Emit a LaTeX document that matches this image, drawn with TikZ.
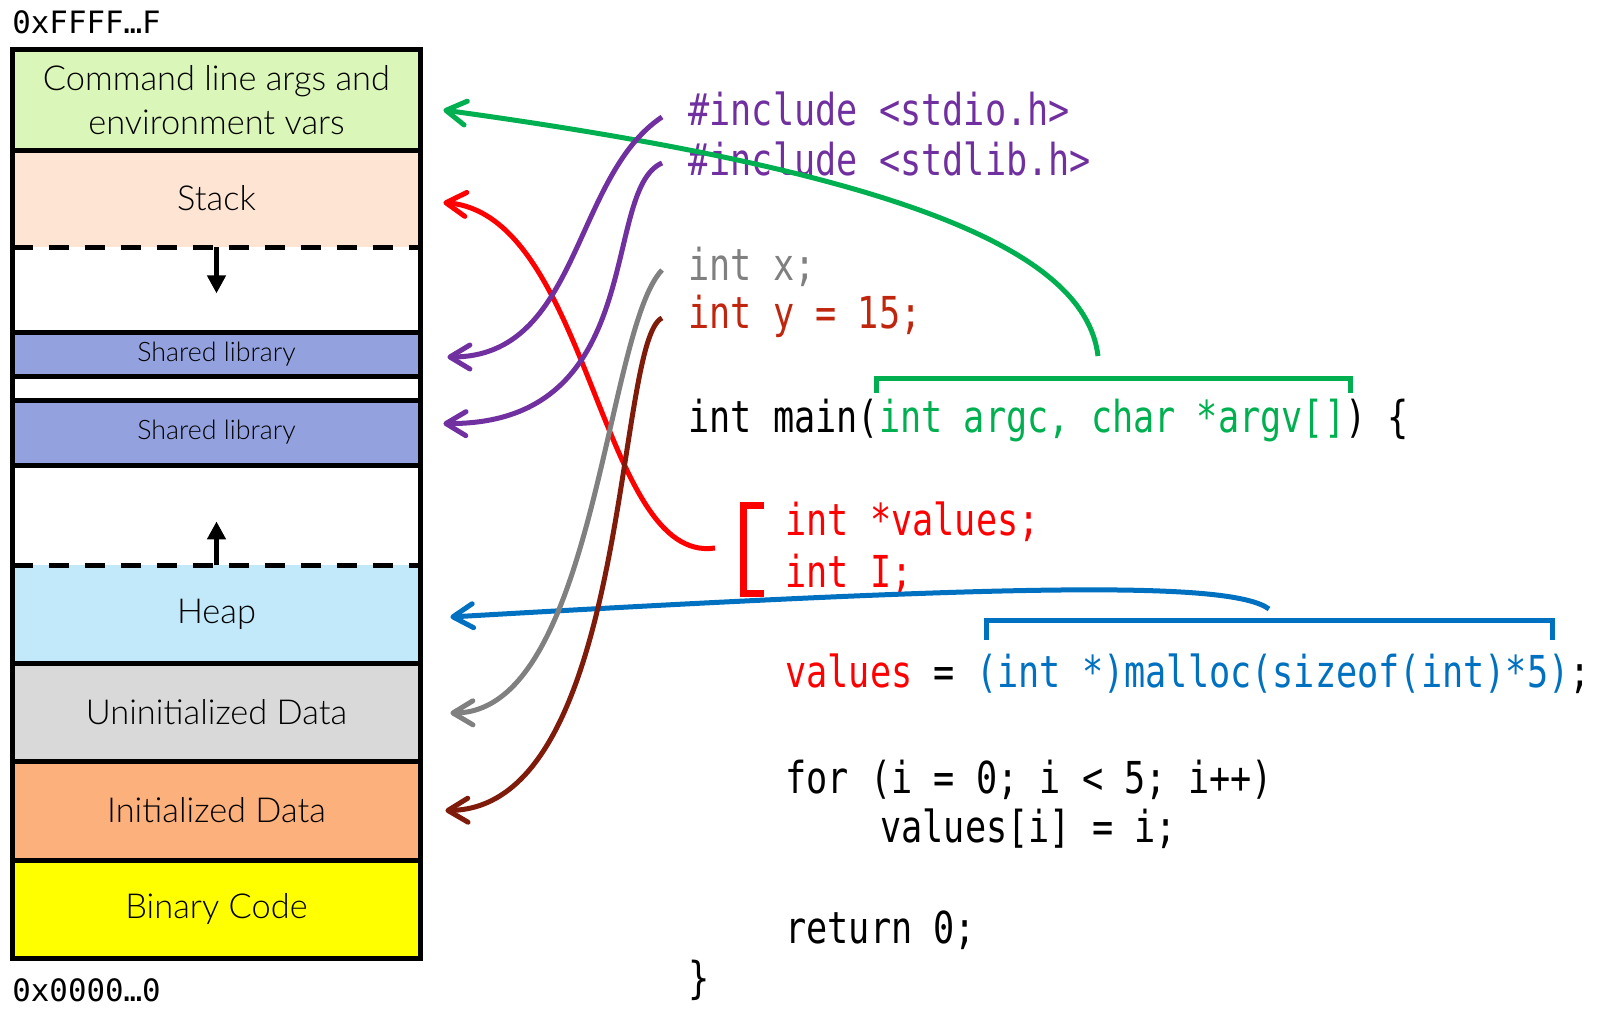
\documentclass[tikz,border=0pt]{standalone}
\usepackage{fontspec}
\setmainfont{Lato}[UprightFont=* Light]
\newfontfamily\codefont{DejaVu Sans Mono}[FakeStretch=0.8]
\newfontfamily\addrfont{DejaVu Sans Mono}
\usepackage{xcolor}
\usepackage{tikz}
\usetikzlibrary{arrows.meta}

\definecolor{cmdfill}{HTML}{DAF6B8}
\definecolor{stackfill}{HTML}{FDE4D3}
\definecolor{libfill}{HTML}{93A2DE}
\definecolor{heapfill}{HTML}{C1E9F9}
\definecolor{bssfill}{HTML}{D9D9D9}
\definecolor{datafill}{HTML}{FCB07B}
\definecolor{textfill}{HTML}{FFFF00}
\definecolor{incpurple}{HTML}{7030A0}
\definecolor{bssgray}{HTML}{808080}
\definecolor{datared}{HTML}{C0260E}
\definecolor{dataarrow}{HTML}{7F1B0B}
\definecolor{stackred}{HTML}{FF0000}
\definecolor{argsgreen}{HTML}{00B050}
\definecolor{heapblue}{HTML}{0070C0}

\begin{document}
\begin{tikzpicture}[x=0.5pt, y=-0.5pt,
    seg/.style={minimum width=203.5pt, inner sep=0pt, font=\fontsize{17.2}{22}\selectfont},
    smalltext/.style={font=\fontsize{13.4}{16}\selectfont},
    wall/.style={line width=2.5pt},
    splitline/.style={line width=2.5pt, dash pattern=on 10pt off 8pt},
    growarrow/.style={line width=2.5pt, -{Triangle[length=9pt, width=9pt]}},
    code/.style={anchor=base west, inner sep=0pt, font=\codefont\fontsize{22}{26}\selectfont},
    addr/.style={anchor=base west, inner sep=0pt, font=\addrfont\fontsize{15.4}{18}\selectfont},
    link/.style={line width=2.5pt, -{Straight Barb[length=10pt, width=12pt, round]}},
    bracket/.style={line width=2.5pt}]
    \useasboundingbox (0,0) rectangle (1602,1008);

    \node[seg, fill=cmdfill, minimum height=50pt, align=center] (cmd) at (216.5,100) {Command line args and\\environment vars};
    \node[seg, fill=stackfill, minimum height=48.5pt] (stack) at (216.5,198.5) {Stack};
    \node[seg, fill=white, minimum height=42.5pt] (freeA) at (216.5,289.5) {};
    \node[seg, smalltext, fill=libfill, minimum height=22pt] (shlA) at (216.5,354) {Shared library};
    \node[seg, fill=white, minimum height=12pt] (gapB) at (216.5,388) {};
    \node[seg, smalltext, fill=libfill, minimum height=32.5pt] (shlB) at (216.5,432.5) {Shared library};
    \node[seg, fill=white, minimum height=50pt] (freeB) at (216.5,515) {};
    \node[seg, fill=heapfill, minimum height=49pt] (heap) at (216.5,614) {Heap};
    \node[seg, fill=bssfill, minimum height=49pt] (bss) at (216.5,712) {Uninitialized Data};
    \node[seg, fill=datafill, minimum height=49.5pt] (data) at (216.5,810.5) {Initialized Data};
    \node[seg, fill=textfill, minimum height=49pt] (text) at (216.5,909) {Binary Code};

    \draw[wall] (cmd.north west) rectangle (text.south east);
    \foreach \s in {cmd, freeA, shlA, gapB, shlB, heap, bss, data}
        \draw[wall] (\s.south west) -- (\s.south east);
    \foreach \s in {stack, freeB}
        \draw[splitline] (\s.south west) -- (\s.south east);
    \draw[growarrow] (stack.south) -- ++(0,46);
    \draw[growarrow] (freeB.south) -- ++(0,-44);

    \node[addr] (hiaddr) at (12,33) {0xFFFF…F};
    \node[addr] (loaddr) at (12,1001) {0x0000…0};

    \node[code, text=incpurple] (incA) at (688,125) {\#include <stdio.h>};
    \node[code, text=incpurple] (incB) at (688,175) {\#include <stdlib.h>};
    \node[code, text=bssgray] (varx) at (688,280) {int x;};
    \node[code, text=datared] (vary) at (688,328) {int y = 15;};
    \node[code] (main) at (688,432) {int main(\textcolor{argsgreen}{int argc, char *argv[]}) \{};
    \node[code, text=stackred] (locA) at (785,535) {int *values;};
    \node[code, text=stackred] (locB) at (785,587) {int I;};
    \node[code] (alloc) at (785,687) {\textcolor{stackred}{values} = \textcolor{heapblue}{(int *)malloc(sizeof(int)*5)};};
    \node[code] (forl) at (785,793) {for (i = 0; i < 5; i++)};
    \node[code] (body) at (880,842) {values[i] = i;};
    \node[code] (ret) at (785,943) {return 0;};
    \node[code] (close) at (688,993) {\}};

    \draw[bracket, argsgreen] (876,393) -- (876,378) -- (1350,378) -- (1350,393);
    \draw[bracket, heapblue] (986,640) -- (986,620) -- (1552,620) -- (1552,640);
    \draw[bracket, stackred, line width=3.5pt] (764,505) -- (743,505) -- (743,593) -- (764,593);

    \coordinate (argsTop) at (1098,356);
    \coordinate (locOut) at (715,548);
    \coordinate (incAOut) at (662,117);
    \coordinate (incBOut) at (662,163);
    \coordinate (varxOut) at (662,270);
    \coordinate (varyOut) at (662,318);
    \coordinate (allocTop) at (1269,609);

    \draw[link, argsgreen] (argsTop) .. controls (1085,245) and (880,170) .. ([xshift=11.5pt, yshift=-5pt]cmd.east);
    \draw[link, stackred] (locOut) .. controls (600,565) and (590,215) .. ([xshift=11.5pt, yshift=-2pt]stack.east);
    \draw[link, incpurple] (incAOut) .. controls (572,177) and (580,357) .. ([xshift=13.5pt, yshift=-1.5pt]shlA.east);
    \draw[link, incpurple] (incBOut) .. controls (600,190) and (650,425) .. ([xshift=11.5pt, yshift=4.5pt]shlB.east);
    \draw[link, heapblue] (allocTop) .. controls (1230,580) and (1000,585) .. ([xshift=15pt, yshift=-1.5pt]heap.east);
    \draw[link, bssgray] (varxOut) .. controls (605,330) and (595,712) .. ([xshift=15pt, yshift=-0.5pt]bss.east);
    \draw[link, dataarrow] (varyOut) .. controls (615,340) and (630,808) .. ([xshift=12.5pt]data.east);
\end{tikzpicture}
\end{document}
